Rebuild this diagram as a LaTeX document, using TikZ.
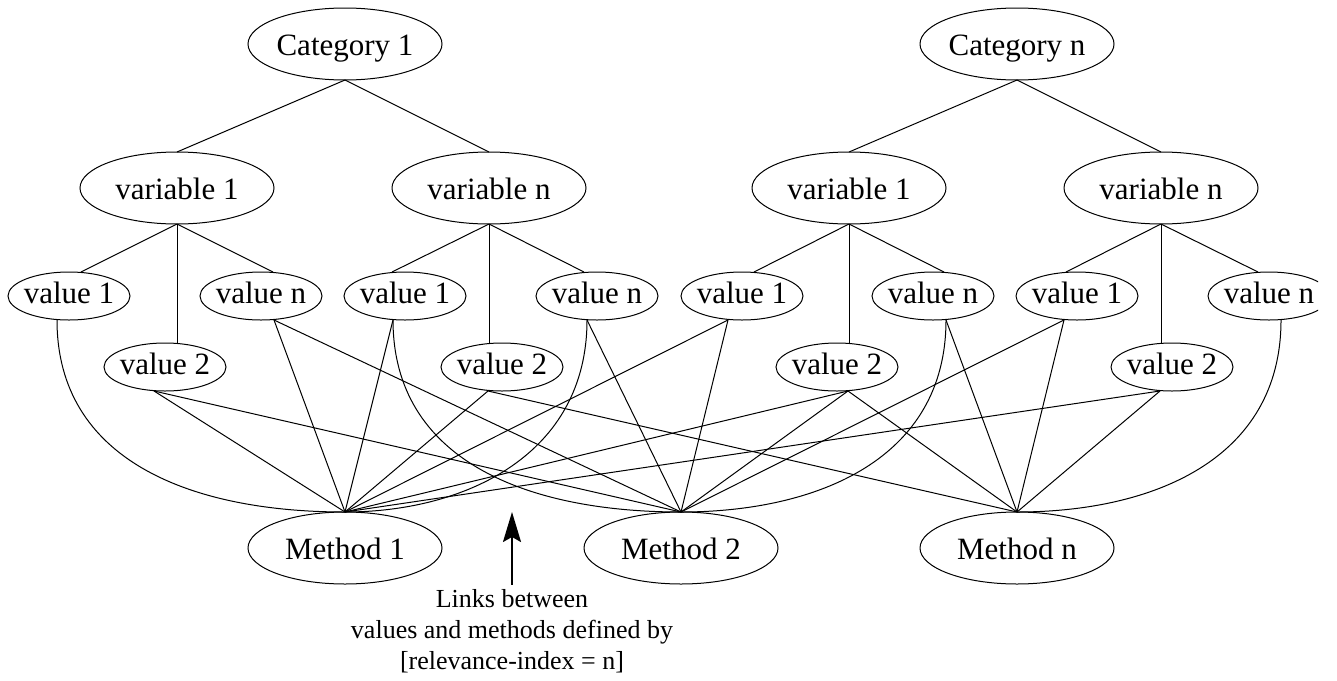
\documentclass[tikz,border=0pt]{standalone}
\usepackage{fontspec}
\setmainfont{Liberation Serif}
\usetikzlibrary{shapes.geometric,arrows.meta}
\begin{document}
\begin{tikzpicture}[x=1pt,y=-1pt,
  every node/.style={inner sep=0pt,outer sep=0pt},
  big/.style={draw,ellipse,line width=1pt,inner xsep=-3pt,minimum width=194pt,minimum height=72pt,
    font=\fontsize{31}{37}\selectfont,text height=27pt,text depth=4pt},
  val/.style={draw,ellipse,line width=1pt,inner xsep=-3pt,minimum width=122pt,minimum height=48pt,
    font=\fontsize{31}{37}\selectfont,text height=21pt,text depth=7pt},
  link/.style={line width=1pt},
  note/.style={font=\fontsize{26}{31}\selectfont,align=center},
  pointer/.style={line width=2pt,-{Stealth[length=30pt,width=18pt,inset=5pt]}}]
\fill[white] (0,0) rectangle (1337,680);
\useasboundingbox (0,0) rectangle (1337,680);
\begin{scope}
\clip (0,0) rectangle (1318,680);
% categories
\node[big] (cat1) at (345,44) {Category 1};
\node[big] (catn) at (1017,44) {Category n};
% variables
\node[big] (v1L) at (177,188) {variable 1};
\node[big] (vnL) at (489,188) {variable n};
\node[big] (v1R) at (849,188) {variable 1};
\node[big] (vnR) at (1161,188) {variable n};
% values row 1
\node[val] (a1) at (69,296) {value 1};
\node[val] (an) at (261,296) {value n};
\node[val] (b1) at (405,296) {value 1};
\node[val] (bn) at (597,296) {value n};
\node[val] (c1) at (742,296) {value 1};
\node[val] (cn) at (933,296) {value n};
\node[val] (d1) at (1077,296) {value 1};
\node[val] (dn) at (1269,296) {value n};
% values row 2
\node[val] (a2) at (165,367) {value 2};
\node[val] (b2) at (502,367) {value 2};
\node[val] (c2) at (837,367) {value 2};
\node[val] (d2) at (1172,367) {value 2};
% methods
\node[big] (m1) at (345,548) {Method 1};
\node[big] (m2) at (681,548) {Method 2};
\node[big] (mn) at (1017,548) {Method n};
% annotation
\node[note] (txt) at (512,631.5) {Links between\\values and methods defined by\\{[relevance-index = n]}};
\coordinate (tip) at (512,512);
\draw[pointer] ([yshift=5pt]txt.north) -- (tip);
% category -> variable
\draw[link] (cat1.south) -- (v1L.north);
\draw[link] (cat1.south) -- (vnL.north);
\draw[link] (catn.south) -- (v1R.north);
\draw[link] (catn.south) -- (vnR.north);
% variable -> value
\draw[link] (v1L.south) -- ([xshift=12pt]a1.north);
\draw[link] (v1L.south) -- ([xshift=12pt]an.north);
\draw[link] (v1L.south) -- (v1L.south |- a2.north);
\draw[link] (vnL.south) -- ([xshift=-13pt]b1.north);
\draw[link] (vnL.south) -- ([xshift=-13pt]bn.north);
\draw[link] (vnL.south) -- (vnL.south |- b2.north);
\draw[link] (v1R.south) -- ([xshift=12pt]c1.north);
\draw[link] (v1R.south) -- ([xshift=11pt]cn.north);
\draw[link] (v1R.south) -- (v1R.south |- c2.north);
\draw[link] (vnR.south) -- ([xshift=-11pt]d1.north);
\draw[link] (vnR.south) -- ([xshift=-11pt]dn.north);
\draw[link] (vnR.south) -- (vnR.south |- d2.north);
% value -> Method 1
\draw[link] ([xshift=-12pt]a1.south) .. controls +(0,140) and +(-155,0) .. (m1.north);
\draw[link] ([xshift=13pt]an.south) -- (m1.north);
\draw[link] ([xshift=-11pt]a2.south) -- (m1.north);
\draw[link] ([xshift=-12pt]b1.south) -- (m1.north);
\draw[link] ([xshift=-14pt]b2.south) -- (m1.north);
\draw[link] ([xshift=-10pt]bn.south) .. controls +(0,135) and +(120,0) .. (m1.north);
\draw[link] ([xshift=-14pt]c1.south) -- (m1.north);
\draw[link] ([xshift=11pt]c2.south) -- (m1.north);
\draw[link] ([xshift=-12pt]d2.south) -- (m1.north);
% value -> Method 2
\draw[link] ([xshift=13pt]an.south) -- (m2.north);
\draw[link] ([xshift=-11pt]a2.south) -- (m2.north);
\draw[link] ([xshift=-12pt]b1.south) .. controls +(0,140) and +(-155,0) .. (m2.north);
\draw[link] ([xshift=-10pt]bn.south) -- (m2.north);
\draw[link] ([xshift=-14pt]c1.south) -- (m2.north);
\draw[link] ([xshift=11pt]c2.south) -- (m2.north);
\draw[link] ([xshift=13pt]cn.south) .. controls +(0,140) and +(135,0) .. (m2.north);
\draw[link] ([xshift=-13pt]d1.south) -- (m2.north);
% value -> Method n
\draw[link] ([xshift=-14pt]b2.south) -- (mn.north);
\draw[link] ([xshift=11pt]c2.south) -- (mn.north);
\draw[link] ([xshift=13pt]cn.south) -- (mn.north);
\draw[link] ([xshift=-13pt]d1.south) -- (mn.north);
\draw[link] ([xshift=-12pt]d2.south) -- (mn.north);
\draw[link] ([xshift=12pt]dn.south) .. controls +(0,140) and +(135,0) .. (mn.north);
\end{scope}
\end{tikzpicture}
\end{document}
